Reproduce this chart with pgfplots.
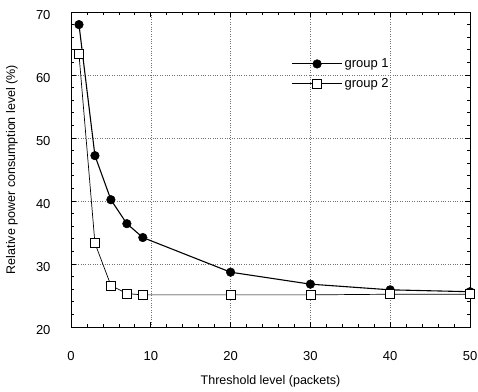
\documentclass[border=0pt]{standalone}
\usepackage{pgfplots}
\pgfplotsset{compat=1.18}
\usepackage{fontspec}
\setmainfont{Liberation Sans}
\begin{document}
\begin{tikzpicture}
\begin{axis}[
  scale only axis,
  width=399pt, height=315pt,
  xmin=0, xmax=50, ymin=20, ymax=70,
  xtick={0,10,...,50}, ytick={20,30,...,70},
  minor x tick num=4, minor y tick num=4,
  tick align=inside,
  major tick length=5pt, minor tick length=3pt,
  xtick pos=both, ytick pos=both,
  grid=major,
  major grid style={black!55, dotted, line width=0.6pt},
  axis line style={line width=0.9pt},
  every tick/.style={black, line width=0.7pt},
  tick label style={font=\fontsize{13}{14}\selectfont},
  xticklabel style={yshift=-21pt},
  yticklabel style={xshift=-17pt, yshift=-3pt},
  label style={font=\fontsize{12.5}{14}\selectfont},
  /pgf/number format/assume math mode=true,
  xlabel={Threshold level (packets)},
  ylabel={Relative power consumption level (\%)},
  xlabel style={at={(axis description cs:0.5,-0.171)}, anchor=center},
  ylabel style={at={(axis description cs:-0.148,0.5)}, anchor=center},
  legend style={at={(0.545,0.865)}, anchor=north west, draw=none, fill=none,
    font=\fontsize{13}{15}\selectfont, row sep=5pt},
  legend cell align=left,
  legend image code/.code={
    \draw[mark=none] (0cm,0cm) -- (1.75cm,0cm);
    \draw plot coordinates {(0.875cm,0cm)};
  },
]
\addplot[black, line width=1.1pt, mark=*, mark size=4.3pt, mark options={fill=black, line width=0.5pt}]
  coordinates {(1,68.0) (3,47.2) (5,40.2) (7,36.4) (9,34.2) (20,28.7) (30,26.8) (40,25.9) (50,25.6)};
\addlegendentry{group 1}
\addplot[black, line width=0.7pt, mark=square*, mark size=4.5pt, mark options={fill=white, line width=0.8pt}]
  coordinates {(1,63.3) (3,33.3) (5,26.6) (7,25.3) (9,25.1) (20,25.1) (30,25.1) (40,25.2) (50,25.2)};
\addlegendentry{group 2}
\coordinate (SW) at (rel axis cs:0,0);
\coordinate (NE) at (rel axis cs:1,1);
\end{axis}
\pgfresetboundingbox
\path[use as bounding box] ([shift={(-71pt,-65pt)}]SW) rectangle ([shift={(8pt,12pt)}]NE);
\end{tikzpicture}
\end{document}
